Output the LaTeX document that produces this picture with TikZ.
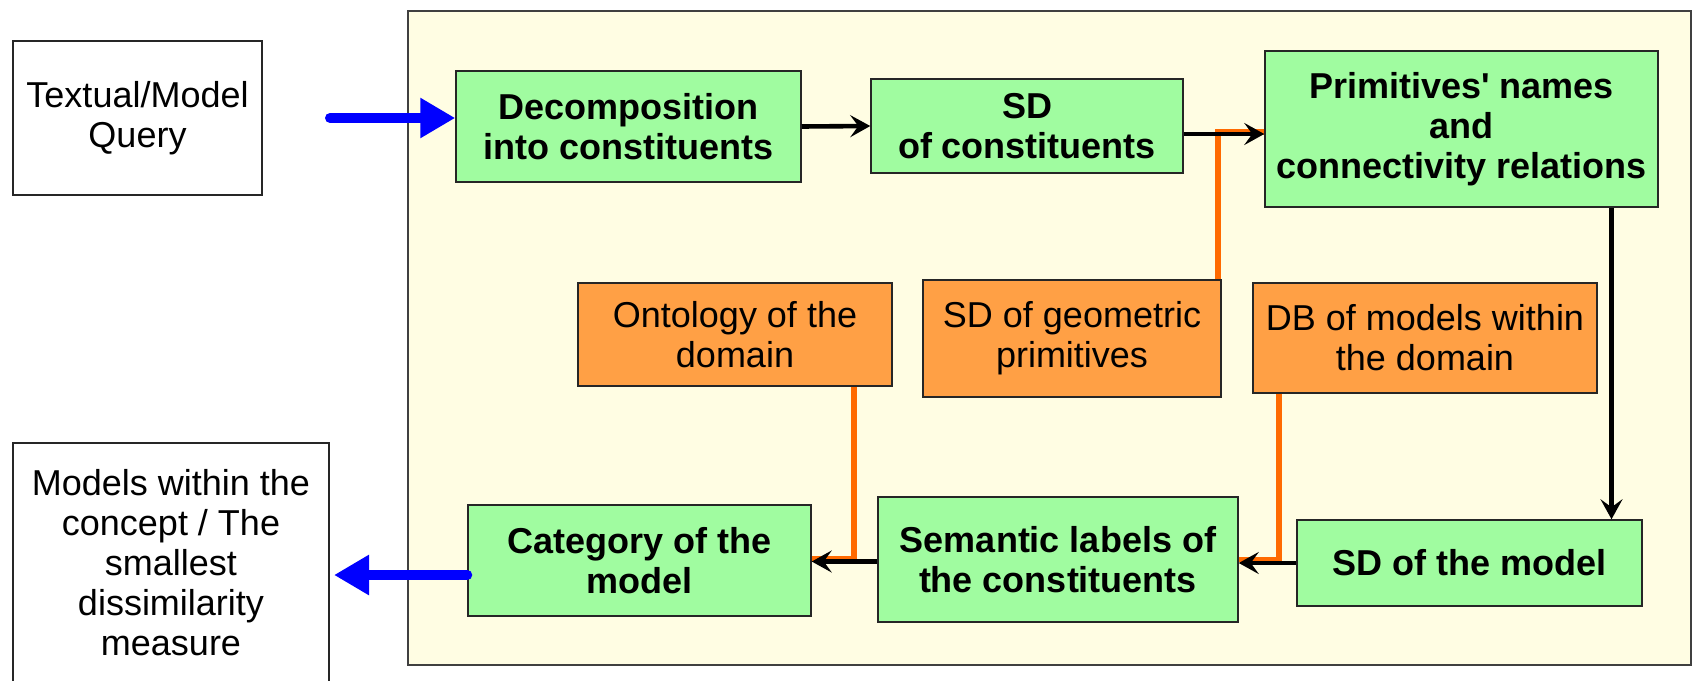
\documentclass[tikz,border=0pt]{standalone}
\usepackage{fontspec}
\setmainfont{Liberation Sans}
\usetikzlibrary{arrows.meta}
\definecolor{fondo}{HTML}{FFFDE3}
\definecolor{verde}{HTML}{A0FCA0}
\definecolor{naranja}{HTML}{FFA045}
\definecolor{linnar}{HTML}{FF6A00}
\definecolor{azul}{HTML}{0000FF}
\newcommand{\letra}{\fontsize{18}{20}\selectfont}

\begin{document}
\begin{tikzpicture}[x=0.5pt,y=-0.5pt,font=\letra,
          paso/.style={draw=black!85,line width=0.75pt,fill=verde,align=center,inner sep=0pt,font=\letra\bfseries},
          fuente/.style={draw=black!85,line width=0.75pt,fill=naranja,align=center,inner sep=0pt},
          extremo/.style={draw=black!85,line width=0.75pt,fill=white,align=center,inner sep=0pt},
          flujo/.style={line width=2.3pt,-{Stealth[length=10pt,width=11pt,inset=4pt]}},
          aporte/.style={draw=linnar,line width=2.8pt},
          grueso/.style={draw=azul,line width=5pt,line cap=round,-{Triangle[length=17.5pt,width=19pt]}}]
        \useasboundingbox (0,0) rectangle (1702,680);
        \draw[fill=fondo,draw=black!75,line width=0.75pt] (408,11) rectangle (1691,665);
        \node[extremo,minimum width=124.5pt,minimum height=77pt] (query) at (137.5,118) {Textual/Model\\Query};
        \node[extremo,minimum width=158pt,minimum height=120pt] (result) at (171,563) {Models within the\\concept / The\\smallest\\dissimilarity\\measure};
        \node[paso,minimum width=172.5pt,minimum height=55.5pt] (decomp) at (628.5,126.5) {Decomposition\\into constituents};
        \node[paso,minimum width=156pt,minimum height=47pt] (sdc) at (1027,126) {SD\\of constituents};
        \node[paso,minimum width=196.5pt,minimum height=78pt] (prim) at (1461.5,129) {Primitives\textquotesingle{} names\\and\\connectivity relations};
        \node[fuente,minimum width=157pt,minimum height=51.5pt] (onto) at (735,334.5) {Ontology of the\\domain};
        \node[fuente,minimum width=149pt,minimum height=58.5pt] (geom) at (1072,338.5) {SD of geometric\\primitives};
        \node[fuente,minimum width=172pt,minimum height=55pt] (db) at (1425,338) {DB of models within\\the domain};
        \node[paso,minimum width=171.5pt,minimum height=55.5pt] (cat) at (639.5,560.5) {Category of the\\model};
        \node[paso,minimum width=180pt,minimum height=62.5pt] (sem) at (1058,559.5) {Semantic labels of\\the constituents};
        \node[paso,minimum width=172.5pt,minimum height=43pt] (sdm) at (1469.5,563) {SD of the model};
        % flechas azules de entrada y salida
        \coordinate (entrada) at (330,118);
        \coordinate (salida) at (334,575);
        \draw[grueso] (entrada) -- (entrada -| decomp.west);
        \draw[grueso] (salida -| cat.west) -- (salida);
        % cadena principal
        \draw[flujo] (decomp.east) -- (sdc.west);
        \draw[aporte] ([xshift=-2pt]geom.north east) |- ([yshift=-3pt]sdc.east -| prim.west);
        \draw[flujo] ([yshift=-4pt]sdc.east) -- ([yshift=-4pt]sdc.east -| prim.west);
        \draw[flujo] ([xshift=75pt]prim.south) -- ([xshift=75pt]prim.south |- sdm.north);
        \draw[aporte] ([xshift=13.5pt]db.south west) |- (sem.east);
        \draw[flujo] (sdm.west) -- (sdm.west -| sem.east);
        \draw[aporte] ([xshift=-19.5pt]onto.south east) |- ([yshift=1pt]cat.east);
        \draw[flujo] ([yshift=-1pt]sem.west) -- ([yshift=-1pt]sem.west -| cat.east);
\end{tikzpicture}
\end{document}
